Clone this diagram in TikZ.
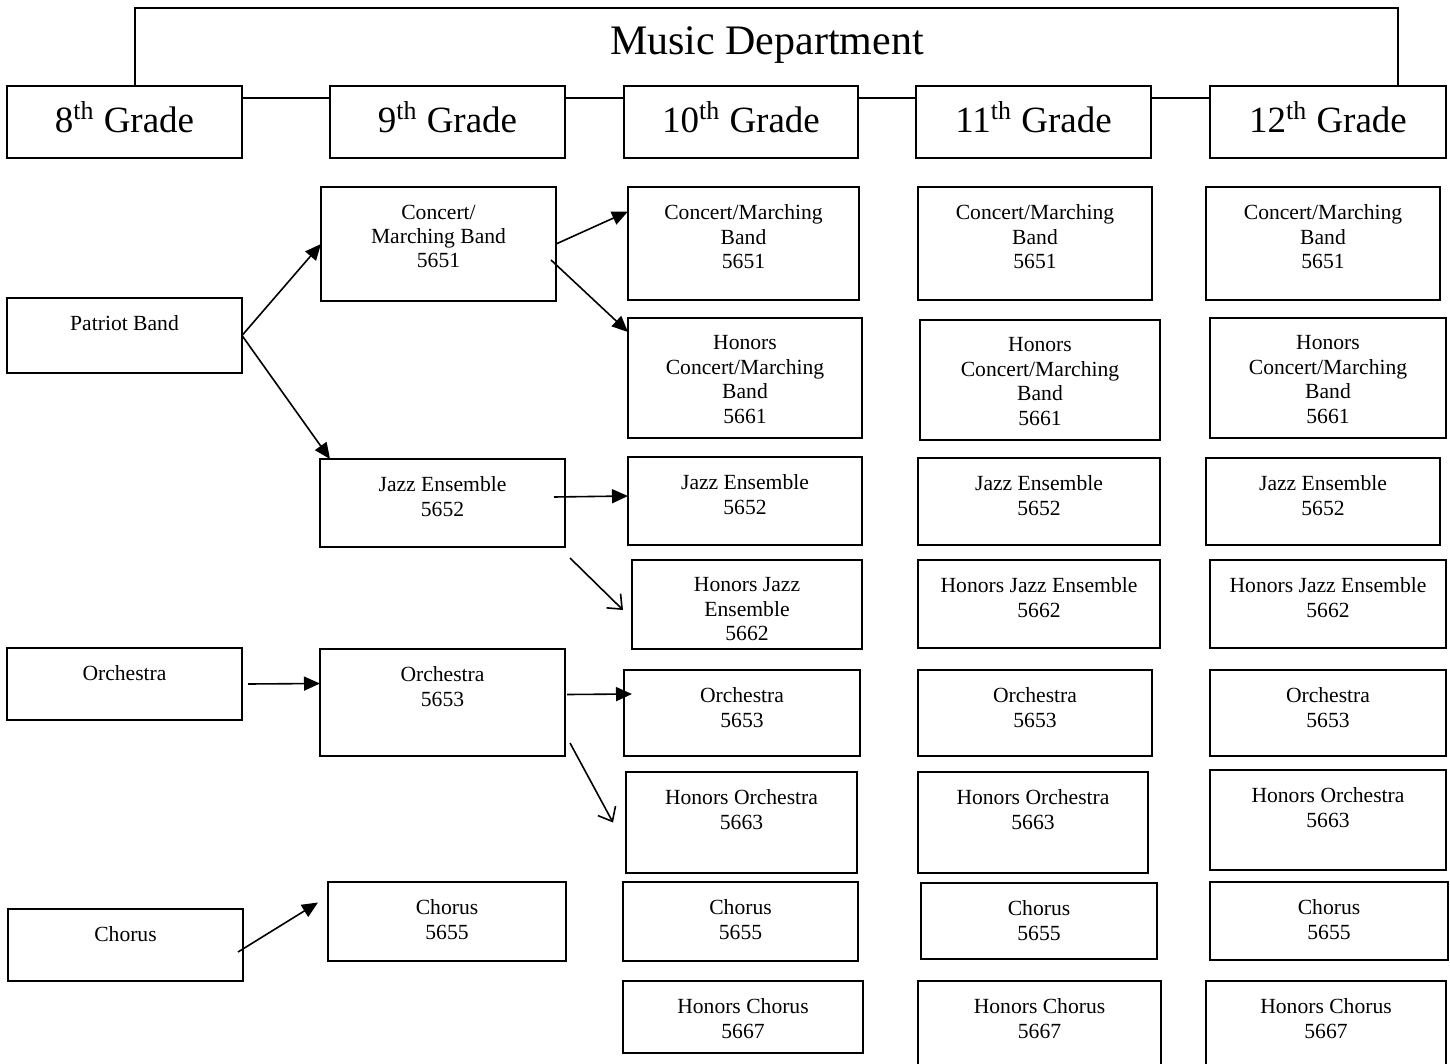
\documentclass[tikz,border=0pt]{standalone}
\usepackage{fontspec}
\setmainfont{Liberation Serif}
\usetikzlibrary{arrows.meta}
\tikzset{every picture/.style={line width=0.75pt}}
\tikzset{
crsframe/.style={draw, line width=0.8pt, inner sep=0pt, outer sep=0pt},
crstext/.style={anchor=north, inner sep=0pt, align=center, font=\fontsize{10.8}{12.2}\selectfont},
gradetext/.style={inner sep=0pt, font=\fontsize{18.5}{22}\selectfont},
fillarrow/.style={-{Triangle[length=8pt,width=7pt]}, line width=0.8pt},
openarrow/.style={-{Straight Barb[length=6pt,width=10pt]}, line width=0.8pt}}
% box: name, x1, y1, x2, y2, text (text sits at the top)
% (yscale=-1, so a positive yshift goes down)
\newcommand{\crsbox}[6]{%
\node [crsframe, minimum width={(#4-#2)*0.5pt}, minimum height={(#5-#3)*0.5pt}] (#1) at ({(#2+#4)/2},{(#3+#5)/2}) {};
\node [crstext] (#1-t) at ([yshift=8.5pt]#1.north) {#6};}
% grade box: name, x1, y1, x2, y2, text (centred)
\newcommand{\gradebox}[6]{%
\node [crsframe, minimum width={(#4-#2)*0.5pt}, minimum height={(#5-#3)*0.5pt}] (#1) at ({(#2+#4)/2},{(#3+#5)/2}) {};
\node [gradetext] (#1-t) at ([yshift=-2.5pt]#1.center) {#6};}

\begin{document}
\begin{tikzpicture}[x=0.5pt,y=0.5pt,yscale=-1,xscale=1]
\useasboundingbox (0,0) rectangle (1450,1064);

% Text Node
\node [inner sep=0pt, font=\fontsize{21}{25}\selectfont] (md) at (767,45) {Music Department};

%Shape: Rectangle [grades]
\gradebox{g8}{7}{86}{242}{158}{8\textsuperscript{th} Grade}
\gradebox{g9}{330}{86}{565}{158}{9\textsuperscript{th} Grade}
\gradebox{g10}{624}{86}{858}{158}{10\textsuperscript{th} Grade}
\gradebox{g11}{916}{86}{1151}{158}{11\textsuperscript{th} Grade}
\gradebox{g12}{1210}{86}{1446}{158}{12\textsuperscript{th} Grade}

%Straight Lines [bracket and grade links]
\draw ([xshift=5.25pt]g8.north) -- ++(0,-78) -| ([xshift=35pt]g12.north);
\draw ([yshift=-12pt]g8.east) -- ([yshift=-12pt]g9.west);
\draw ([yshift=-12pt]g9.east) -- ([yshift=-12pt]g10.west);
\draw ([yshift=-12pt]g10.east) -- ([yshift=-12pt]g11.west);
\draw ([yshift=-12pt]g11.east) -- ([yshift=-12pt]g12.west);

%Shape: Rectangle [8th grade]
\crsbox{pb}{7}{298}{242}{373}{Patriot Band}
\crsbox{or8}{7}{648}{242}{720}{Orchestra}
\crsbox{ch8}{8}{909}{243}{981}{Chorus}

%Shape: Rectangle [9th grade]
\crsbox{cm9}{321}{187}{556}{301}{Concert/\\Marching Band\\5651}
\crsbox{jz9}{320}{459}{565}{547}{Jazz Ensemble\\5652}
\crsbox{or9}{320}{649}{565}{756}{Orchestra\\5653}
\crsbox{ch9}{328}{882}{566}{961}{Chorus\\5655}

%Shape: Rectangle [10th grade]
\crsbox{cm10}{628}{187}{859}{300}{Concert/Marching\\Band\\5651}
\crsbox{hcm10}{628}{318}{862}{438}{Honors\\Concert/Marching\\Band\\5661}
\crsbox{jz10}{628}{457}{862}{545}{Jazz Ensemble\\5652}
\crsbox{hjz10}{632}{560}{862}{649}{Honors Jazz\\Ensemble\\5662}
\crsbox{or10}{624}{670}{860}{756}{Orchestra\\5653}
\crsbox{hor10}{626}{772}{857}{873}{Honors Orchestra\\5663}
\crsbox{ch10}{623}{882}{858}{961}{Chorus\\5655}
\crsbox{hch10}{623}{981}{863}{1053}{Honors Chorus\\5667}

%Shape: Rectangle [11th grade]
\crsbox{cm11}{918}{187}{1152}{300}{Concert/Marching\\Band\\5651}
\crsbox{hcm11}{920}{320}{1160}{440}{Honors\\Concert/Marching\\Band\\5661}
\crsbox{jz11}{918}{458}{1160}{545}{Jazz Ensemble\\5652}
\crsbox{hjz11}{918}{560}{1160}{648}{Honors Jazz Ensemble\\5662}
\crsbox{or11}{918}{670}{1152}{756}{Orchestra\\5653}
\crsbox{hor11}{918}{772}{1148}{873}{Honors Orchestra\\5663}
\crsbox{ch11}{921}{883}{1157}{959}{Chorus\\5655}
\crsbox{hch11}{918}{981}{1161}{1072}{Honors Chorus\\5667}

%Shape: Rectangle [12th grade]
\crsbox{cm12}{1206}{187}{1440}{300}{Concert/Marching\\Band\\5651}
\crsbox{hcm12}{1210}{318}{1446}{438}{Honors\\Concert/Marching\\Band\\5661}
\crsbox{jz12}{1206}{458}{1440}{545}{Jazz Ensemble\\5652}
\crsbox{hjz12}{1210}{560}{1446}{648}{Honors Jazz Ensemble\\5662}
\crsbox{or12}{1210}{670}{1446}{756}{Orchestra\\5653}
\crsbox{hor12}{1210}{770}{1446}{870}{Honors Orchestra\\5663}
\crsbox{ch12}{1210}{882}{1448}{960}{Chorus\\5655}
\crsbox{hch12}{1206}{981}{1446}{1072}{Honors Chorus\\5667}

%Straight Lines [arrows]
\draw [fillarrow] (pb.east) -- (cm9.west);
\draw [fillarrow] (pb.east) -- ([xshift=5pt]jz9.north west);
\draw [fillarrow] (cm9.east) -- ([yshift=-16pt]cm10.west);
\draw [fillarrow] ([xshift=-2.5pt,yshift=8pt]cm9.east) -- ([yshift=-23pt]hcm10.west);
\draw [fillarrow] ([xshift=-5.5pt,yshift=-3pt]jz9.east) -- ([yshift=-2.5pt]jz10.west);
\draw [openarrow] ([xshift=2.5pt,yshift=5.5pt]jz9.south east) -- ([xshift=-4.5pt,yshift=2.75pt]hjz10.west);
\draw [fillarrow] ([xshift=3pt]or8.east) -- ([yshift=-9.5pt]or9.west);
\draw [fillarrow] ([xshift=1pt,yshift=-4pt]or9.east) -- ([xshift=4pt,yshift=-9.5pt]or10.west);
\draw [openarrow] ([xshift=2.5pt,yshift=-6.5pt]or9.south east) -- ([xshift=-6.5pt]hor10.west);
\draw [fillarrow] ([xshift=-2.5pt,yshift=3.5pt]ch8.east) -- ([xshift=-5pt,yshift=-9.5pt]ch9.west);
\end{tikzpicture}
\end{document}
